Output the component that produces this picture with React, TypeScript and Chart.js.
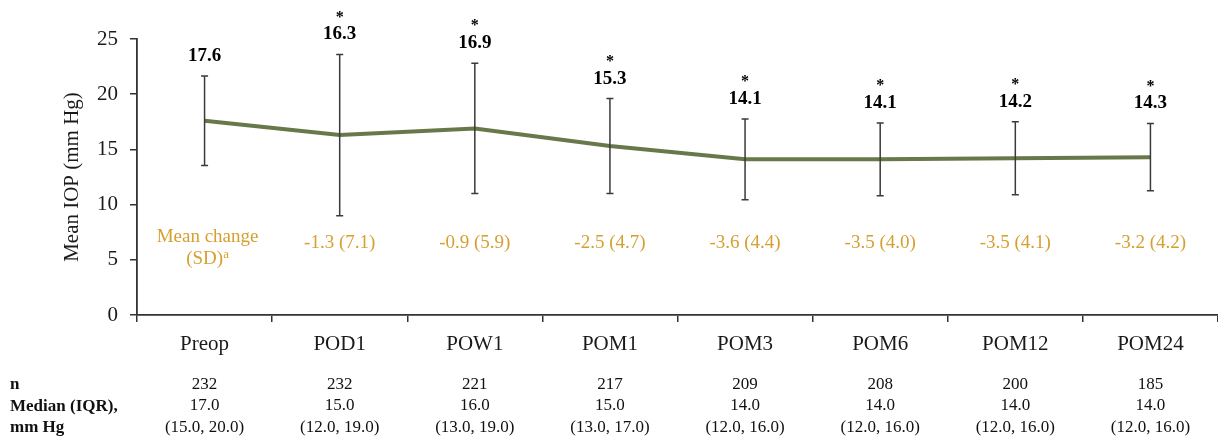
import React, { useEffect, useRef } from "react";
import { Chart, registerables } from "chart.js";

Chart.register(...registerables);

const categories = ["Preop", "POD1", "POW1", "POM1", "POM3", "POM6", "POM12", "POM24"];
const meanIOP = [17.6, 16.3, 16.9, 15.3, 14.1, 14.1, 14.2, 14.3];
const sdIOP = [4.05, 7.3, 5.9, 4.3, 3.65, 3.3, 3.3, 3.05];
const significant = [false, true, true, true, true, true, true, true];
const meanChangeLabels = ["", "-1.3 (7.1)", "-0.9 (5.9)", "-2.5 (4.7)", "-3.6 (4.4)", "-3.5 (4.0)", "-3.5 (4.1)", "-3.2 (4.2)"];
const nValues = ["232", "232", "221", "217", "209", "208", "200", "185"];
const medianValues = ["17.0", "15.0", "16.0", "15.0", "14.0", "14.0", "14.0", "14.0"];
const iqrValues = ["(15.0, 20.0)", "(12.0, 19.0)", "(13.0, 19.0)", "(13.0, 17.0)", "(12.0, 16.0)", "(12.0, 16.0)", "(12.0, 16.0)", "(12.0, 16.0)"];
const yMin = 0;
const yMax = 25;
const yStep = 5;
const changeLabelLevel = 6.5;

const SERIF = "'Liberation Serif', 'Times New Roman', serif";
const GOLD = "#D6A030";
const LINE_GREEN = "#67794A";

const overlayPlugin = {
  id: "overlay",
  afterDatasetsDraw(chart: any) {
    const ctx = chart.ctx;
    const xs = chart.scales.x;
    const ys = chart.scales.y;
    ctx.save();
    // error bars
    ctx.strokeStyle = "#3a3a3a";
    ctx.lineWidth = 1.5;
    meanIOP.forEach((m, i) => {
      const x = xs.getPixelForValue(i);
      const yt = ys.getPixelForValue(m + sdIOP[i]);
      const yb = ys.getPixelForValue(m - sdIOP[i]);
      ctx.beginPath();
      ctx.moveTo(x, yt);
      ctx.lineTo(x, yb);
      ctx.moveTo(x - 3.5, yt);
      ctx.lineTo(x + 3.5, yt);
      ctx.moveTo(x - 3.5, yb);
      ctx.lineTo(x + 3.5, yb);
      ctx.stroke();
    });
    // value labels
    ctx.textAlign = "center";
    ctx.textBaseline = "middle";
    meanIOP.forEach((m, i) => {
      const x = xs.getPixelForValue(i);
      const yt = ys.getPixelForValue(m + sdIOP[i]);
      const ly = yt - 20;
      ctx.fillStyle = "#000";
      ctx.font = `bold 19px ${SERIF}`;
      ctx.fillText(m.toFixed(1), x, ly);
      if (significant[i]) {
        ctx.font = `bold 16px ${SERIF}`;
        ctx.fillText("*", x, ly - 17);
      }
    });
    // mean change labels
    ctx.fillStyle = GOLD;
    ctx.font = `19px ${SERIF}`;
    const cy = ys.getPixelForValue(changeLabelLevel);
    meanChangeLabels.forEach((t, i) => {
      if (!t) return;
      ctx.fillText(t, xs.getPixelForValue(i), cy);
    });
    const x0 = xs.getPixelForValue(0) + 3;
    ctx.fillText("Mean change", x0, cy - 6);
    const w1 = ctx.measureText("(SD)").width;
    ctx.font = `13px ${SERIF}`;
    const w2 = ctx.measureText("a").width;
    ctx.font = `19px ${SERIF}`;
    ctx.textAlign = "left";
    const sx = x0 - (w1 + w2) / 2;
    ctx.fillText("(SD)", sx, cy + 16);
    ctx.font = `13px ${SERIF}`;
    ctx.fillText("a", sx + w1, cy + 11);
    // table below
    ctx.fillStyle = "#111";
    ctx.textAlign = "left";
    ctx.font = `bold 17px ${SERIF}`;
    ctx.fillText("n", 10, 385);
    ctx.fillText("Median (IQR),", 10, 407);
    ctx.fillText("mm Hg", 10, 428);
    ctx.textAlign = "center";
    ctx.font = `17px ${SERIF}`;
    categories.forEach((_, i) => {
      const x = xs.getPixelForValue(i);
      ctx.fillText(nValues[i], x, 385);
      ctx.fillText(medianValues[i], x, 406);
      ctx.fillText(iqrValues[i], x, 428);
    });
    ctx.restore();
  },
};

export default function App() {
  const ref = useRef<HTMLCanvasElement | null>(null);
  useEffect(() => {
    if (!ref.current) return;
    const chart = new Chart(ref.current, {
      type: "line",
      data: {
        labels: categories,
        datasets: [
          {
            data: meanIOP,
            borderColor: LINE_GREEN,
            borderWidth: 4,
            pointRadius: 0,
            pointHoverRadius: 0,
            tension: 0,
            fill: false,
          },
        ],
      },
      options: {
        responsive: false,
        animation: false,
        events: [],
        layout: { padding: { top: 39, left: 0, right: 0, bottom: 0 } },
        plugins: { legend: { display: false }, tooltip: { enabled: false } },
        scales: {
          x: {
            offset: true,
            grid: {
              offset: true,
              drawOnChartArea: false,
              drawTicks: true,
              tickLength: 7,
              color: "#333",
              lineWidth: 1.5,
            },
            border: { color: "#333", width: 1.8 },
            ticks: { color: "#1a1a1a", font: { family: SERIF, size: 21 }, padding: 10, maxRotation: 0 },
            afterFit: (s: any) => {
              s.height = 123;
            },
          },
          y: {
            min: yMin,
            max: yMax,
            ticks: { stepSize: yStep, color: "#1a1a1a", font: { family: SERIF, size: 21 }, padding: 12 },
            grid: { drawOnChartArea: false, drawTicks: true, tickLength: 7, color: "#333", lineWidth: 1.5 },
            border: { color: "#333", width: 1.8 },
            title: {
              display: true,
              text: "Mean IOP (mm Hg)",
              color: "#1a1a1a",
              font: { family: SERIF, size: 21 },
              padding: { top: 60, bottom: 0 },
            },
            afterFit: (s: any) => {
              s.width = 137;
            },
          },
        },
      },
      plugins: [overlayPlugin],
    });
    return () => chart.destroy();
  }, []);
  return (
    <div style={{ position: "absolute", left: 0, top: 0, width: 1218, height: 438, background: "#fff" }}>
      <canvas ref={ref} width={1218} height={438} style={{ display: "block" }} />
    </div>
  );
}
